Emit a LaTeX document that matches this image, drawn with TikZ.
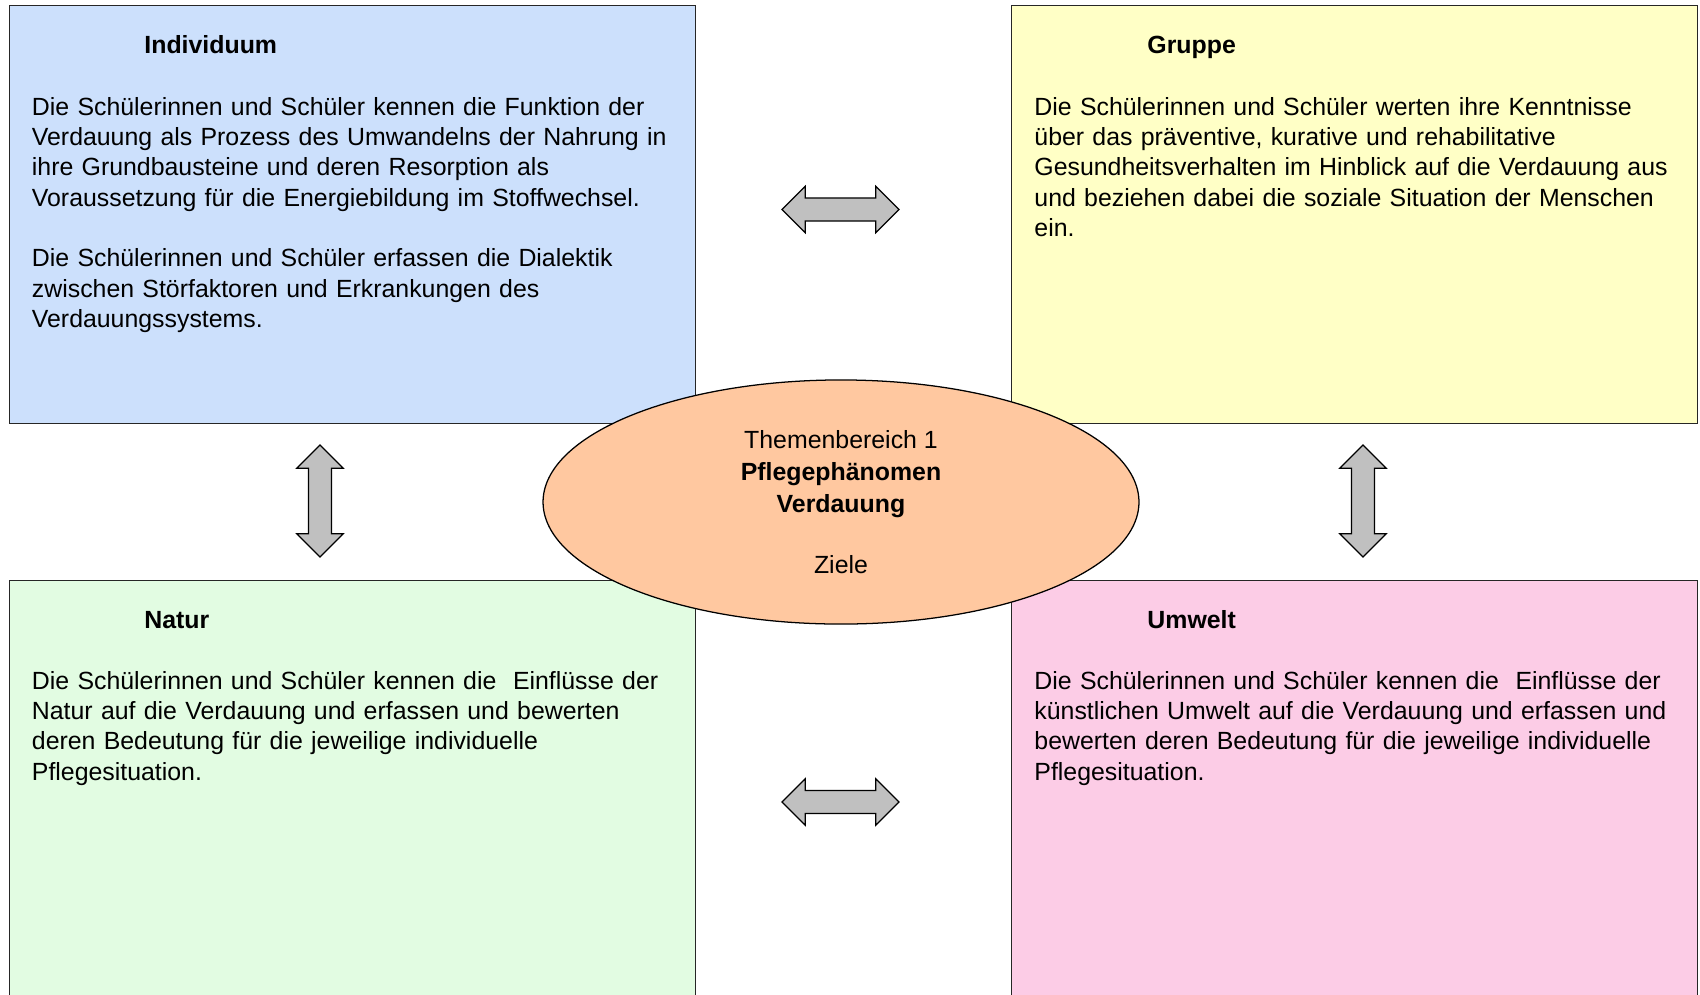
\documentclass[tikz,border=0pt]{standalone}
\usepackage{fontspec}
\setmainfont{Liberation Sans}
\usepackage{xcolor}
\usetikzlibrary{shapes.geometric}
\usetikzlibrary{shapes.arrows}
\definecolor{blaufeld}{RGB}{204,224,252}
\definecolor{gelbfeld}{RGB}{255,255,198}
\definecolor{gruenfeld}{RGB}{226,252,226}
\definecolor{rosafeld}{RGB}{252,204,230}
\definecolor{pfirsich}{RGB}{255,200,160}
\definecolor{pfeilgrau}{RGB}{192,192,192}
\newcommand{\schrift}{\fontsize{11.8}{14.4}\selectfont}
\tikzset{feld/.style={draw=black!85, line width=0.6pt, anchor=north west,
   minimum width=325.5pt, minimum height=198.3pt, inner sep=0pt},
 titel/.style={anchor=base west, inner sep=0pt, font=\schrift\bfseries},
 inhalt/.style={anchor=base west, inner sep=0pt, text width=330pt, align=left},
 pfeil/.style={double arrow, draw=black, fill=pfeilgrau, line width=0.6pt,
   inner sep=5.2pt, minimum height=55.5pt, minimum width=21.8pt,
   double arrow head extend=5.5pt},
 }

\begin{document}
\begin{tikzpicture}[x=0.4744pt, y=-0.4744pt, font=\schrift]
        \clip (0,0) rectangle (1700,994);
        \node[feld, fill=blaufeld] (individuum) at (9,5) {};
        \node[feld, fill=gelbfeld] (gruppe) at (1011,5) {};
        \node[feld, fill=gruenfeld, minimum height=204pt] (natur) at (9,580) {};
        \node[feld, fill=rosafeld, minimum height=204pt] (umwelt) at (1011,580) {};
        \node[titel] (tindividuum) at (144,53) {Individuum};
        \node[titel] (tgruppe) at (1147,53) {Gruppe};
        \node[titel] (tnatur) at (144,628) {Natur};
        \node[titel] (tumwelt) at (1147,628) {Umwelt};
        \node[inhalt] (zindividuum) at (31.5,115) {Die Schülerinnen und Schüler kennen die Funktion der\\
            Verdauung als Prozess des Umwandelns der Nahrung in\\
            ihre Grundbausteine und deren Resorption als\\
            Voraussetzung für die Energiebildung im Stoffwechsel.\\[14.4pt]
            Die Schülerinnen und Schüler erfassen die Dialektik\\
            zwischen Störfaktoren und Erkrankungen des\\
            Verdauungssystems.};
        \node[inhalt] (zgruppe) at (1034,115) {Die Schülerinnen und Schüler werten ihre Kenntnisse\\
            über das präventive, kurative und rehabilitative\\
            Gesundheitsverhalten im Hinblick auf die Verdauung aus\\
            und beziehen dabei die soziale Situation der Menschen\\
            ein.};
        \node[inhalt] (znatur) at (31.5,689) {Die Schülerinnen und Schüler kennen die~ Einflüsse der\\
            Natur auf die Verdauung und erfassen und bewerten\\
            deren Bedeutung für die jeweilige individuelle\\
            Pflegesituation.};
        \node[inhalt] (zumwelt) at (1034,689) {Die Schülerinnen und Schüler kennen die~ Einflüsse der\\
            künstlichen Umwelt auf die Verdauung und erfassen und\\
            bewerten deren Bedeutung für die jeweilige individuelle\\
            Pflegesituation.};
        \node[ellipse, draw=black, fill=pfirsich, line width=0.6pt, inner sep=0pt,
            minimum width=282.7pt, minimum height=115.8pt, align=center,
            font=\fontsize{11.8}{15.2}\selectfont] (thema) at (841,502)
            {Themenbereich 1\\\textbf{Pflegephänomen}\\\textbf{Verdauung}\\[13.6pt]Ziele};
        \node[pfeil] (pfeiloben) at (840.5,209.5) {};
        \node[pfeil] (pfeilunten) at (840.5,802) {};
        \node[pfeil, rotate=90, minimum height=53.1pt] (pfeillinks) at (320,501) {};
        \node[pfeil, rotate=90, minimum height=53.1pt] (pfeilrechts) at (1363,501) {};
    \end{tikzpicture}
\end{document}
